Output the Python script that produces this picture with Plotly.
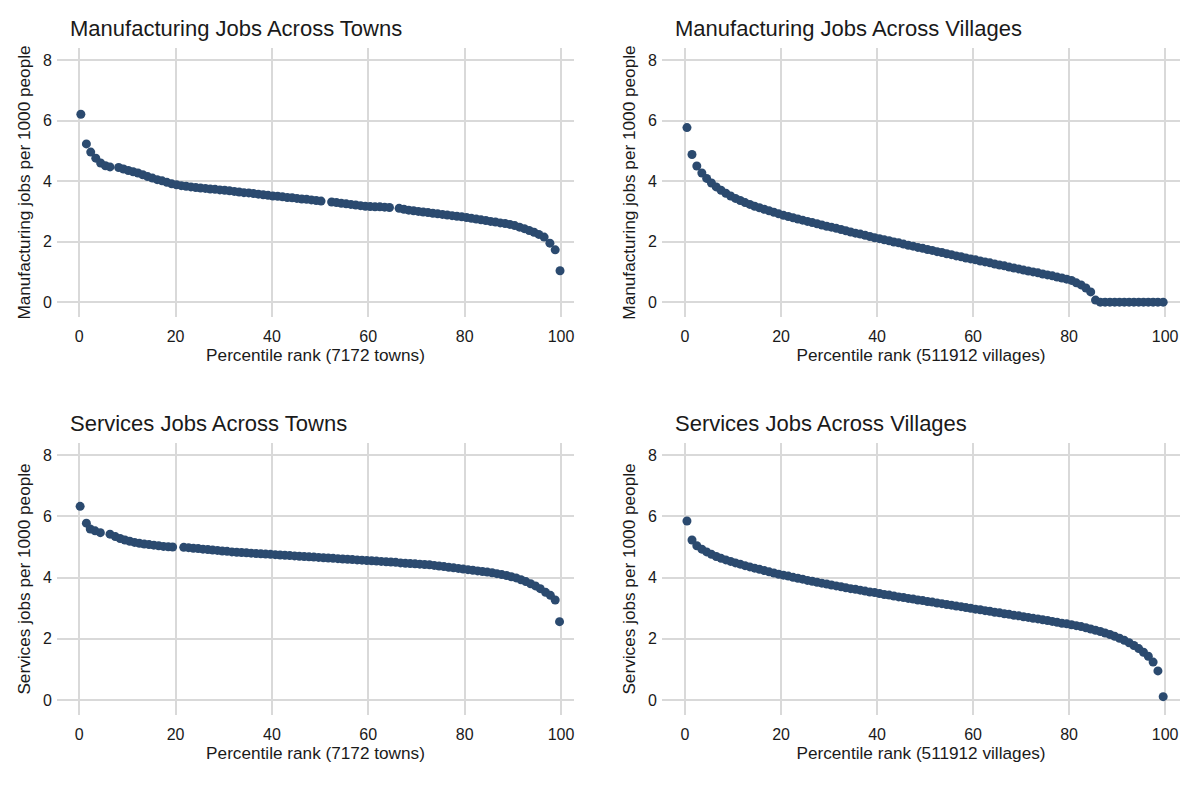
import plotly.graph_objects as go

# ---------------- data ----------------
titles = ["Manufacturing Jobs Across Towns", "Manufacturing Jobs Across Villages",
          "Services Jobs Across Towns", "Services Jobs Across Villages"]
x_titles = ["Percentile rank (7172 towns)", "Percentile rank (511912 villages)",
            "Percentile rank (7172 towns)", "Percentile rank (511912 villages)"]
y_titles = ["Manufacturing jobs per 1000 people", "Manufacturing jobs per 1000 people",
            "Services jobs per 1000 people", "Services jobs per 1000 people"]
x_ticks = [0, 20, 40, 60, 80, 100]
y_ticks = [0, 2, 4, 6, 8]

# Manufacturing, towns
town_mfg_x = [0.35, 1.5, 2.4, 3.45, 4.45, 5.45, 6.4,
              8.2, 9.2, 10.2, 11.2, 12.2, 13.2, 14.2, 15.2, 16.2, 17.2, 18.2, 19.2,
              20.2, 21.2, 22.2, 23.2, 24.2, 25.2, 26.2, 27.2, 28.2, 29.2,
              30.2, 31.2, 32.2, 33.2, 34.2, 35.2, 36.2, 37.2, 38.2, 39.2,
              40.2, 41.2, 42.2, 43.2, 44.2, 45.2, 46.2, 47.2, 48.2, 49.2, 50.2,
              52.4, 53.4, 54.4, 55.4, 56.4, 57.4, 58.4, 59.4, 60.4, 61.4, 62.4, 63.4, 64.4,
              66.4, 67.4, 68.4, 69.4, 70.4, 71.4, 72.4, 73.4, 74.4, 75.4, 76.4, 77.4, 78.4, 79.4,
              80.4, 81.4, 82.4, 83.4, 84.4, 85.4, 86.4, 87.4, 88.4, 89.4,
              90.4, 91.4, 92.4, 93.4, 94.4, 95.4, 96.5, 97.7, 98.8, 99.8]
town_mfg_y = [6.21, 5.23, 4.96, 4.76, 4.60, 4.51, 4.47,
              4.45, 4.40, 4.35, 4.31, 4.27, 4.21, 4.15, 4.10, 4.05, 4.01, 3.96, 3.91,
              3.88, 3.85, 3.83, 3.81, 3.79, 3.77, 3.76, 3.74, 3.73, 3.71,
              3.70, 3.68, 3.66, 3.64, 3.62, 3.61, 3.59, 3.57, 3.55, 3.53,
              3.51, 3.50, 3.48, 3.46, 3.45, 3.43, 3.41, 3.40, 3.38, 3.36, 3.34,
              3.31, 3.29, 3.27, 3.25, 3.23, 3.21, 3.19, 3.17, 3.16, 3.15, 3.15, 3.14, 3.13,
              3.10, 3.07, 3.04, 3.02, 3.00, 2.98, 2.96, 2.94, 2.92, 2.90, 2.88, 2.86, 2.84, 2.82,
              2.80, 2.77, 2.75, 2.72, 2.70, 2.67, 2.65, 2.62, 2.60, 2.57,
              2.53, 2.48, 2.43, 2.37, 2.31, 2.24, 2.15, 1.95, 1.73, 1.04]

# Villages share percentile bins
village_x = [0.4, 1.45, 2.45, 3.5, 4.5, 5.5, 6.5, 7.5, 8.5, 9.5,
             10.5, 11.5, 12.5, 13.5, 14.5, 15.5, 16.5, 17.5, 18.5, 19.5,
             20.5, 21.5, 22.5, 23.5, 24.5, 25.5, 26.5, 27.5, 28.5, 29.5,
             30.5, 31.5, 32.5, 33.5, 34.5, 35.5, 36.5, 37.5, 38.5, 39.5,
             40.5, 41.5, 42.5, 43.5, 44.5, 45.5, 46.5, 47.5, 48.5, 49.5,
             50.5, 51.5, 52.5, 53.5, 54.5, 55.5, 56.5, 57.5, 58.5, 59.5,
             60.5, 61.5, 62.5, 63.5, 64.5, 65.5, 66.5, 67.5, 68.5, 69.5,
             70.5, 71.5, 72.5, 73.5, 74.5, 75.5, 76.5, 77.5, 78.5, 79.5,
             80.5, 81.5, 82.5, 83.5, 84.5, 85.5, 86.5, 87.5, 88.5, 89.5,
             90.5, 91.5, 92.5, 93.5, 94.5, 95.5, 96.5, 97.5, 98.5, 99.6]

# Manufacturing, villages
village_mfg_y = [5.77, 4.88, 4.50, 4.27, 4.09, 3.94, 3.81, 3.70, 3.60, 3.51,
                 3.43, 3.36, 3.29, 3.23, 3.17, 3.12, 3.07, 3.02, 2.97, 2.92,
                 2.87, 2.83, 2.79, 2.75, 2.71, 2.67, 2.63, 2.59, 2.55, 2.51,
                 2.48, 2.44, 2.40, 2.36, 2.32, 2.28, 2.25, 2.21, 2.17, 2.13,
                 2.10, 2.06, 2.03, 1.99, 1.96, 1.92, 1.88, 1.85, 1.81, 1.78,
                 1.74, 1.71, 1.67, 1.64, 1.60, 1.57, 1.53, 1.50, 1.46, 1.43,
                 1.40, 1.36, 1.33, 1.30, 1.26, 1.23, 1.20, 1.16, 1.13, 1.10,
                 1.06, 1.03, 1.00, 0.97, 0.93, 0.90, 0.87, 0.83, 0.80, 0.76,
                 0.72, 0.64, 0.57, 0.47, 0.34, 0.07, 0.0, 0.0, 0.0, 0.0,
                 0.0, 0.0, 0.0, 0.0, 0.0, 0.0, 0.0, 0.0, 0.0, 0.0]

# Services, towns
town_srv_x = [0.2, 1.5, 2.3, 3.3, 4.4,
              6.4, 7.5, 8.5, 9.5, 10.5, 11.5, 12.5, 13.5, 14.5, 15.5, 16.5, 17.5, 18.5, 19.4,
              21.7, 22.7, 23.7, 24.7, 25.7, 26.7, 27.7, 28.7, 29.7,
              30.7, 31.7, 32.7, 33.7, 34.7, 35.7, 36.7, 37.7, 38.7, 39.7,
              40.7, 41.7, 42.7, 43.7, 44.7, 45.7, 46.7, 47.7, 48.7, 49.7,
              50.7, 51.7, 52.7, 53.7, 54.7, 55.7, 56.7, 57.7, 58.7, 59.7,
              60.7, 61.7, 62.7, 63.7, 64.7, 65.7, 66.7, 67.7, 68.7, 69.7,
              70.7, 71.7, 72.7, 73.7, 74.7, 75.7, 76.7, 77.7, 78.7, 79.7,
              80.7, 81.7, 82.7, 83.7, 84.7, 85.7, 86.7, 87.7, 88.7, 89.7,
              90.7, 91.7, 92.7, 93.7, 94.7, 95.7, 96.8, 97.8, 98.8, 99.7]
town_srv_y = [6.33, 5.78, 5.59, 5.53, 5.47,
              5.42, 5.34, 5.28, 5.23, 5.19, 5.15, 5.12, 5.10, 5.08, 5.06, 5.04, 5.02, 5.01, 5.00,
              4.99, 4.98, 4.96, 4.95, 4.93, 4.92, 4.90, 4.89, 4.87,
              4.86, 4.84, 4.83, 4.82, 4.81, 4.80, 4.79, 4.78, 4.77, 4.76,
              4.75, 4.74, 4.73, 4.72, 4.71, 4.70, 4.69, 4.68, 4.67, 4.66,
              4.65, 4.64, 4.63, 4.62, 4.61, 4.60, 4.59, 4.58, 4.57, 4.56,
              4.55, 4.54, 4.53, 4.52, 4.51, 4.50, 4.48, 4.47, 4.46, 4.45,
              4.44, 4.43, 4.42, 4.40, 4.38, 4.36, 4.34, 4.32, 4.30, 4.28,
              4.26, 4.24, 4.22, 4.20, 4.18, 4.16, 4.13, 4.10, 4.07, 4.03,
              3.99, 3.93, 3.87, 3.80, 3.73, 3.64, 3.52, 3.42, 3.27, 2.56]

# Services, villages
village_srv_y = [5.85, 5.23, 5.04, 4.93, 4.84, 4.76, 4.69, 4.63, 4.58, 4.53,
                 4.48, 4.44, 4.39, 4.35, 4.31, 4.27, 4.23, 4.19, 4.15, 4.11,
                 4.08, 4.05, 4.01, 3.98, 3.95, 3.91, 3.88, 3.85, 3.82, 3.79,
                 3.76, 3.73, 3.70, 3.67, 3.64, 3.62, 3.59, 3.56, 3.53, 3.51,
                 3.48, 3.45, 3.43, 3.40, 3.37, 3.35, 3.32, 3.30, 3.27, 3.25,
                 3.22, 3.20, 3.17, 3.15, 3.12, 3.10, 3.07, 3.05, 3.02, 3.00,
                 2.97, 2.95, 2.92, 2.90, 2.87, 2.85, 2.82, 2.80, 2.77, 2.75,
                 2.72, 2.70, 2.67, 2.65, 2.62, 2.60, 2.57, 2.54, 2.51, 2.49,
                 2.46, 2.43, 2.40, 2.36, 2.32, 2.28, 2.24, 2.19, 2.14, 2.08,
                 2.02, 1.95, 1.87, 1.78, 1.68, 1.56, 1.43, 1.24, 0.95, 0.11]

series_x = [town_mfg_x, village_x, town_srv_x, village_x]
series_y = [town_mfg_y, village_mfg_y, town_srv_y, village_srv_y]

# ---------------- figure ----------------
OFF = 8                      # page body margin
W, H = 1200 - 2 * OFF, 789 - 2 * OFF
FONT = "Liberation Sans, Arial, Helvetica, sans-serif"
TEXT = "#1a1a1a"
GRID = "#d9d9d9"
MARK = "#2b4a6f"

# plot regions in window pixels (left, right, top, bottom)
regions = [(57, 574, 48, 317), (662, 1180, 48, 317),
           (57, 574, 443, 715), (662, 1180, 443, 715)]
x_ranges = [[-4.6, 102.7], [-4.8, 103.1], [-4.6, 102.7], [-4.8, 103.1]]
y_range = [-0.49, 8.4]

fig = go.Figure()
for i in range(4):
    sfx = "" if i == 0 else str(i + 1)
    fig.add_trace(go.Scatter(
        x=series_x[i], y=series_y[i], mode="markers",
        marker=dict(size=9, color=MARK, line=dict(width=0)),
        xaxis="x" + sfx, yaxis="y" + sfx, showlegend=False, hoverinfo="x+y"))
    l, r, t, b = [v - OFF for v in regions[i]]
    common = dict(showgrid=True, gridcolor=GRID, gridwidth=1.5, zeroline=False,
                  showline=False, ticks="", tickfont=dict(size=16, color=TEXT, family=FONT))
    fig.layout["xaxis" + sfx] = dict(
        domain=[l / W, r / W], range=x_ranges[i], tickvals=x_ticks,
        anchor="y" + sfx, ticklabelstandoff=8,
        title=dict(text=x_titles[i], font=dict(size=17.2, color=TEXT, family=FONT), standoff=2),
        **common)
    fig.layout["yaxis" + sfx] = dict(
        domain=[1 - b / H, 1 - t / H], range=y_range, tickvals=y_ticks,
        anchor="x" + sfx, ticklabelstandoff=4,
        title=dict(text=y_titles[i], font=dict(size=17.2, color=TEXT, family=FONT), standoff=8),
        **common)
    fig.add_annotation(text=titles[i], xref="paper", yref="paper",
                       x=(l + 11) / W, y=1 - (t - 20) / H, xanchor="left", yanchor="middle",
                       showarrow=False, font=dict(size=22, color=TEXT, family=FONT))

fig.update_layout(width=W, height=H, margin=dict(l=0, r=0, t=0, b=0),
                  paper_bgcolor="white", plot_bgcolor="white",
                  font=dict(family=FONT, color=TEXT))
fig.write_html("out.html")
